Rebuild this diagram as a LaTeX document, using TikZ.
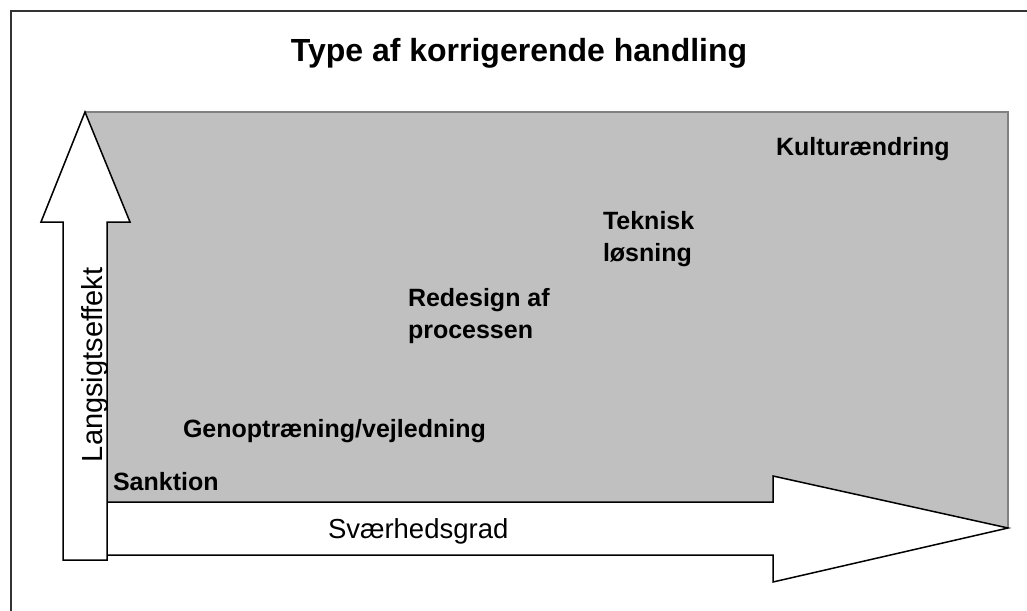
\documentclass[tikz,border=0pt]{standalone}
\usepackage{fontspec}
\setmainfont{Liberation Sans}
\definecolor{fillgrey}{HTML}{C0C0C0}
\definecolor{edgegrey}{HTML}{808080}
\definecolor{framegrey}{HTML}{333333}
\tikzset{
  lbl/.style={inner sep=0pt, outer sep=0pt, font=\fontsize{25}{31.5}\selectfont\bfseries, align=left},
  axislbl/.style={inner sep=0pt, outer sep=0pt, font=\fontsize{27.5}{32}\selectfont},
  arrowshape/.style={draw=black, fill=white, line width=1.5pt, line join=miter},
}
\begin{document}
\begin{tikzpicture}[x=1pt,y=-1pt]
\useasboundingbox (0,0) rectangle (1027,610);
% frame
\draw[framegrey, line width=1.5pt] (11,620) -- (11,11) -- (1040,11);
% grey area
\fill[fillgrey] (85,112) rectangle (1008,528);
\draw[edgegrey, line width=1.5pt] (85,112) -- (1008,112) -- (1008,528);
% horizontal arrow
\draw[arrowshape] (100,502) -- (773,502) -- (773,476) -- (1008,528) -- (773,582) -- (773,555) -- (100,555) -- cycle;
% vertical arrow
\draw[arrowshape] (63,560) -- (63,222) -- (41,222) -- (85,112) -- (130,222) -- (107,222) -- (107,560) -- cycle;
% title
\node[inner sep=0pt, font=\fontsize{32}{36}\selectfont\bfseries, anchor=base] (title) at (519,62) {Type af korrigerende handling};
% labels
\node[lbl, anchor=base west] (sank) at (113,490) {Sanktion};
\node[lbl, anchor=base west] (geno) at (183,437) {Genoptræning/vejledning};
\node[lbl, anchor=base west] (rede) at (408,338) {Redesign af\\processen};
\node[lbl, anchor=base west] (tekn) at (603,261) {Teknisk\\løsning};
\node[lbl, anchor=base west] (kult) at (776,155) {Kulturændring};
% axis labels
\node[inner sep=0pt, outer sep=0pt, font=\fontsize{29}{32}\selectfont, rotate=90, anchor=base west] (lang) at (102,462) {Langsigtseffekt};
\node[axislbl, anchor=base west] (svae) at (328,538) {Sværhedsgrad};
\end{tikzpicture}
\end{document}
